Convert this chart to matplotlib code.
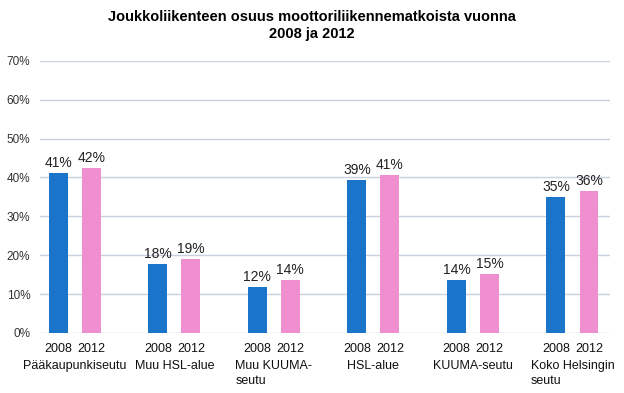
import numpy as np
import matplotlib.pyplot as plt

categories = ['Pääkaupunkiseutu', 'Muu HSL-alue', 'Muu KUUMA-\nseutu',
              'HSL-alue', 'KUUMA-seutu', 'Koko Helsingin\nseutu']
years = ['2008', '2012']
share_2008 = [41.2, 17.8, 11.7, 39.4, 13.5, 35.0]
share_2012 = [42.4, 18.9, 13.6, 40.7, 15.2, 36.4]

plt.rcParams['font.family'] = ['Liberation Sans', 'DejaVu Sans']

fig = plt.figure(figsize=(6.24, 3.93), dpi=100)
ax = fig.add_axes([0.064, 0.153, 0.914, 0.692])

x = np.arange(len(categories))
w = 0.19
off = 0.166
b1 = ax.bar(x - off, share_2008, w, color='#1a74c9')
b2 = ax.bar(x + off, share_2012, w, color='#ef8fd0')

for bars, vals in [(b1, share_2008), (b2, share_2012)]:
    for b, v in zip(bars, vals):
        ax.text(b.get_x() + b.get_width() / 2, v + 0.8, '%d%%' % round(v),
                ha='center', va='bottom', fontsize=10, color='#222222')

ax.set_ylim(0, 70)
ax.set_xlim(-0.35, 5.38)
ax.set_yticks(range(0, 71, 10))
ax.set_yticklabels(['%d%%' % t for t in range(0, 71, 10)], fontsize=8.5, color='#333333')
ticks = np.concatenate([x - off, x + off])
ax.set_xticks(ticks)
ax.set_xticklabels([years[0]] * len(x) + [years[1]] * len(x), fontsize=9, color='#111111')
ax.tick_params(axis='x', length=0, pad=7)
ax.tick_params(axis='y', length=0, pad=7)

for i, c in enumerate(categories):
    ax.text(i, -0.1, c, transform=ax.get_xaxis_transform(), ha='center', va='top',
            multialignment='left', fontsize=9, color='#111111', linespacing=1.35)

ax.grid(axis='y', color='#c9d1dc', linewidth=1.0)
ax.set_axisbelow(True)
for s in ax.spines.values():
    s.set_visible(False)

fig.text(0.5, 0.975, 'Joukkoliikenteen osuus moottoriliikennematkoista vuonna\n2008 ja 2012',
         ha='center', va='top', fontsize=10.5, fontweight='bold', linespacing=1.3)

fig.savefig('out.png', dpi=100)
